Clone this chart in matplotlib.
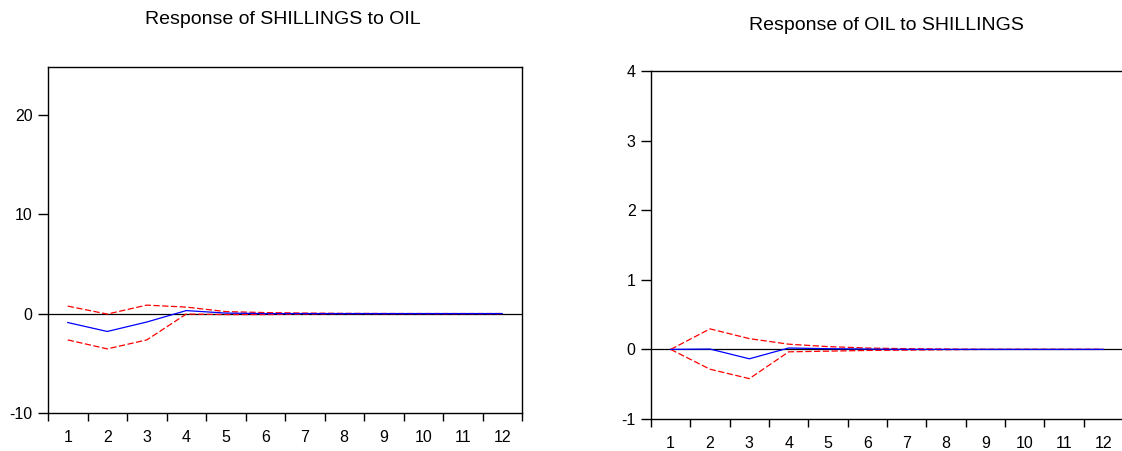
import matplotlib
matplotlib.use("Agg")
import matplotlib.pyplot as plt
from matplotlib.ticker import FixedLocator
from matplotlib import font_manager

periods = list(range(1, 13))

# Response of SHILLINGS to OIL
shil_resp = [-0.9, -1.8, -0.85, 0.3, 0.05, 0.0, 0.0, 0.0, 0.0, 0.0, 0.0, 0.0]
shil_upper = [0.75, -0.05, 0.85, 0.65, 0.2, 0.1, 0.05, 0.02, 0.01, 0.0, 0.0, 0.0]
shil_lower = [-2.65, -3.55, -2.65, -0.05, -0.1, -0.1, -0.05, -0.02, -0.01, 0.0, 0.0, 0.0]

# Response of OIL to SHILLINGS
oil_resp = [0.0, 0.005, -0.135, 0.02, 0.01, 0.005, 0.0, 0.0, 0.0, 0.0, 0.0, 0.0]
oil_upper = [0.0, 0.295, 0.155, 0.075, 0.04, 0.02, 0.01, 0.005, 0.0, 0.0, 0.0, 0.0]
oil_lower = [0.0, -0.285, -0.42, -0.035, -0.025, -0.015, -0.01, -0.005, 0.0, 0.0, 0.0, 0.0]

titles = ["Response of SHILLINGS to OIL", "Response of OIL to SHILLINGS"]
yticks_left = [-10, 0, 10, 20]
yticks_right = [-1, 0, 1, 2, 3, 4]

names = {f.name for f in font_manager.fontManager.ttflist}
fam = ["Liberation Sans Narrow", "Liberation Sans", "DejaVu Sans"]
fam = [f for f in fam if f in names] or ["DejaVu Sans"]
plt.rcParams["font.family"] = fam

fig = plt.figure(figsize=(11.22, 4.51), dpi=100)
ax1 = fig.add_axes([48 / 1122, 38 / 451, 474 / 1122, 346 / 451])
ax2 = fig.add_axes([651 / 1122, 32 / 451, 472 / 1122, 348 / 451])

def style(ax, yt, ylim):
    ax.set_xlim(0.5, 12.5)
    ax.set_ylim(*ylim)
    ax.axhline(0, color="black", lw=0.9, zorder=1)
    ax.set_yticks(yt)
    ax.set_yticklabels([str(v) for v in yt])
    ax.set_xticks(periods)
    ax.set_xticklabels([str(p) for p in periods])
    ax.xaxis.set_minor_locator(FixedLocator([p + 0.5 for p in [0] + periods]))
    ax.tick_params(axis="x", which="major", length=0, pad=12, labelsize=11.5)
    ax.tick_params(axis="x", which="minor", length=6, width=1, direction="out")
    ax.tick_params(axis="y", which="major", length=7, width=1, direction="out", labelsize=11.5, pad=4)
    for s in ax.spines.values():
        s.set_linewidth(1.0)

def draw(ax, resp, up, lo):
    ax.plot(periods, resp, color="blue", lw=0.9, zorder=3)
    ax.plot(periods, up, color="red", lw=0.9, ls=(0, (5, 2)), zorder=2)
    ax.plot(periods, lo, color="red", lw=0.9, ls=(0, (5, 2)), zorder=2)

style(ax1, yticks_left, (-10, 24.8))
draw(ax1, shil_resp, shil_upper, shil_lower)
style(ax2, yticks_right, (-1, 4))
draw(ax2, oil_resp, oil_upper, oil_lower)
ax2.spines["right"].set_visible(False)

fig.text(283 / 1122, 1 - 20 / 451, titles[0], ha="center", va="center", fontsize=14)
fig.text(886 / 1122, 1 - 25 / 451, titles[1], ha="center", va="center", fontsize=14)

fig.savefig("out.png", dpi=100)
